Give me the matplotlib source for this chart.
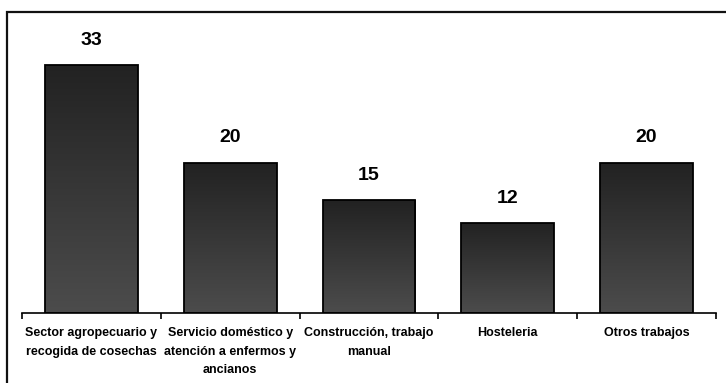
import numpy as np
import matplotlib
matplotlib.use("Agg")
import matplotlib.pyplot as plt
from matplotlib.patches import Rectangle


# DATA

categories = [
    "Sector agropecuario y\nrecogida de cosechas",
    "Servicio doméstico y\natención a enfermos y\nancianos",
    "Construcción, trabajo\nmanual",
    "Hosteleria",
    "Otros trabajos",
]
values = [33, 20, 15, 12, 20]


# FIGURE SETUP

W, H = 726, 383
fig = plt.figure(figsize=(W / 100, H / 100), dpi=100)
plt.rcParams["font.family"] = ["Liberation Sans", "DejaVu Sans"]

# outer frame (left/top visible, runs off the right and bottom)
fig.patches.append(Rectangle((7 / W, -0.05), 1.2, 1 - 12 / H + 0.05,
                             transform=fig.transFigure, fill=False,
                             edgecolor="#111111", linewidth=1.6))

# axes placed in pixel terms: x 22..716, y 50..313 (from top)
ax = fig.add_axes([22 / W, 1 - 313 / H, (716 - 22) / W, (313 - 50) / H])
ax.set_xlim(-0.5, len(categories) - 0.5)
ax.set_ylim(0, 35)

x = np.arange(len(categories))
bars = ax.bar(x, values, width=0.67, color="none", edgecolor="black",
              linewidth=1.3, zorder=3)

# vertical gradient inside each bar (dark top, lighter bottom)
cmap = matplotlib.colors.LinearSegmentedColormap.from_list("g", ["#4c4c4c", "#222222"])
grad = np.linspace(0, 1, 256).reshape(-1, 1)
for b in bars:
    x0, y0 = b.get_x(), b.get_y()
    im = ax.imshow(grad, extent=(x0, x0 + b.get_width(), y0, y0 + b.get_height()),
                   cmap=cmap, origin="lower", aspect="auto", zorder=2)
    im.set_clip_path(b)

# value labels
for xi, v in zip(x, values):
    ax.text(xi, v + 3.3, str(v), ha="center", va="center",
            fontsize=14, fontweight="bold")

# axis styling
for s in ["top", "right", "left"]:
    ax.spines[s].set_visible(False)
ax.spines["bottom"].set_linewidth(1.2)
ax.set_yticks([])
ax.set_xticks(x)
ax.set_xticklabels(categories, fontsize=9, fontweight="bold", linespacing=1.75)
ax.tick_params(axis="x", which="major", length=0, pad=10)
ax.set_xticks(np.arange(-0.5, len(categories)), minor=True)
ax.tick_params(axis="x", which="minor", length=4, width=1.2, direction="out")
ax.set_xlim(-0.5, len(categories) - 0.5)
ax.set_ylim(0, 35)

fig.savefig("out.png", dpi=100)
